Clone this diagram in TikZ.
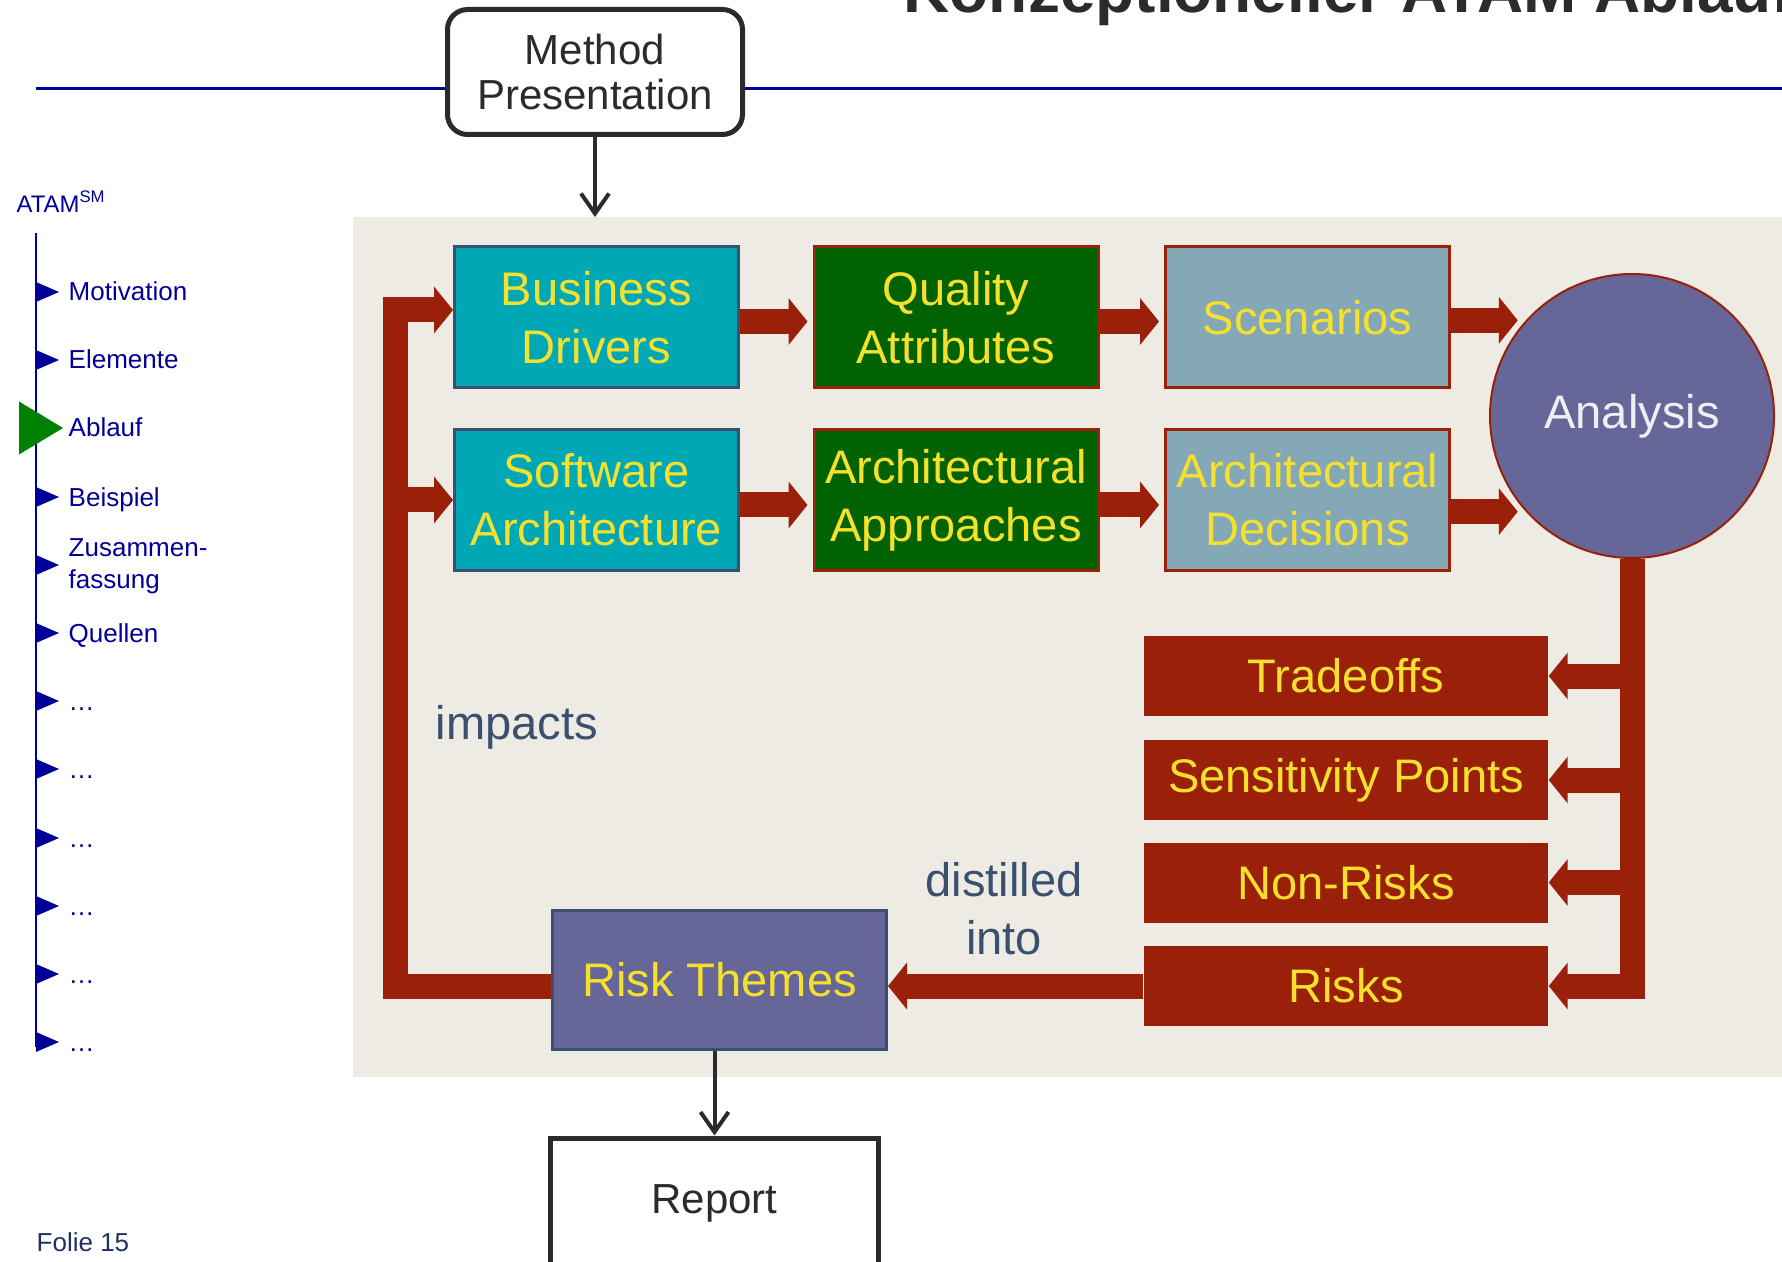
\documentclass[tikz,border=0pt]{standalone}
\usepackage{fontspec}
\setmainfont{Liberation Sans}
\usepackage{xcolor}
\usepackage{tikz}
\usetikzlibrary{arrows.meta}

\definecolor{navyblue}{RGB}{0,0,153}
\definecolor{riskred}{RGB}{154,32,10}
\definecolor{driverteal}{RGB}{0,168,182}
\definecolor{attrgreen}{RGB}{0,98,0}
\definecolor{scengray}{RGB}{133,168,183}
\definecolor{themeslate}{RGB}{102,102,153}
\definecolor{edgeslate}{RGB}{58,80,110}
\definecolor{textyellow}{RGB}{245,225,45}
\definecolor{panelbg}{RGB}{238,235,228}
\definecolor{inkgray}{RGB}{43,43,43}
\definecolor{markgreen}{RGB}{0,128,0}
\definecolor{folieblue}{RGB}{30,50,100}
\definecolor{paperwhite}{RGB}{238,238,245}

\newcommand{\boxfont}{\fontsize{13.4}{16.5}\selectfont}
\newcommand{\inkfont}{\fontsize{11.95}{12.8}\selectfont}
\newcommand{\navfont}{\fontsize{7.4}{9.1}\selectfont}
\newcommand{\titlefont}{\fontsize{18.2}{21}\selectfont\bfseries}

\tikzset{
  flowbox/.style={rectangle, minimum width=2.84cm, minimum height=1.41cm, line width=0.03cm, text=textyellow, align=center, font=\boxfont, inner sep=0.05cm},
  outbox/.style={rectangle, fill=riskred, minimum width=4.04cm, minimum height=0.80cm, text=textyellow, font=\boxfont},
  inkbox/.style={rectangle, draw=inkgray, fill=white, line width=0.05cm, text=inkgray, align=center, font=\inkfont},
  redflow/.style={draw=riskred, line width=0.25cm, -{Triangle[width=0.46cm,length=0.19cm]}},
  inkarrow/.style={draw=inkgray, line width=0.04cm, -{Straight Barb[width=0.28cm,length=0.2cm]}},
  navitem/.style={anchor=base west, inner sep=0pt, text=navyblue, font=\navfont},
  flowlabel/.style={text=edgeslate, font=\boxfont, align=center},
}

\begin{document}
\begin{tikzpicture}

\useasboundingbox (0,0) rectangle (17.82,12.61);

%% background
\fill[panelbg] (3.53,1.84) rectangle (17.82,10.44);

%% heading
\node[anchor=base west, inner sep=0pt, text=inkgray, font=\titlefont] (title) at (9.03,12.48) {Konzeptioneller ATAM Ablauf};
\draw[navyblue, line width=0.03cm] (0.36,11.72) -- (17.82,11.72);

%% side bar
\node[anchor=base west, inner sep=0pt, text=navyblue, font=\fontsize{6.8}{8}\selectfont] (atam) at (0.16,10.48) {ATAM\textsuperscript{SM}};
\draw[navyblue, line width=0.025cm] (0.36,10.28) -- (0.36,2.14);

\fill[navyblue] (0.36,9.79) -- (0.59,9.69) -- (0.36,9.59) -- cycle;
\fill[navyblue] (0.36,9.11) -- (0.59,9.01) -- (0.36,8.91) -- cycle;
\fill[markgreen] (0.19,8.595) -- (0.63,8.33) -- (0.19,8.065) -- cycle;
\fill[navyblue] (0.36,7.74) -- (0.59,7.64) -- (0.36,7.54) -- cycle;
\fill[navyblue] (0.36,7.06) -- (0.59,6.96) -- (0.36,6.86) -- cycle;
\fill[navyblue] (0.36,6.38) -- (0.59,6.28) -- (0.36,6.18) -- cycle;
\fill[navyblue] (0.36,5.70) -- (0.59,5.60) -- (0.36,5.50) -- cycle;
\fill[navyblue] (0.36,5.02) -- (0.59,4.92) -- (0.36,4.82) -- cycle;
\fill[navyblue] (0.36,4.33) -- (0.59,4.23) -- (0.36,4.13) -- cycle;
\fill[navyblue] (0.36,3.65) -- (0.59,3.55) -- (0.36,3.45) -- cycle;
\fill[navyblue] (0.36,2.97) -- (0.59,2.87) -- (0.36,2.77) -- cycle;
\fill[navyblue] (0.36,2.29) -- (0.59,2.19) -- (0.36,2.09) -- cycle;

\node[navitem] (n1) at (0.68,9.60) {Motivation};
\node[navitem] (n2) at (0.68,8.92) {Elemente};
\node[navitem] (n3) at (0.68,8.24) {Ablauf};
\node[navitem] (n4) at (0.68,7.55) {Beispiel};
\node[navitem, anchor=west, align=left] (n5) at (0.68,6.95) {Zusammen-\\fassung};
\node[navitem] (n6) at (0.68,6.19) {Quellen};
\node[navitem] (n7) at (0.68,5.51) {…};
\node[navitem] (n8) at (0.68,4.83) {…};
\node[navitem] (n9) at (0.68,4.14) {…};
\node[navitem] (n10) at (0.68,3.46) {…};
\node[navitem] (n11) at (0.68,2.78) {…};
\node[navitem] (n12) at (0.68,2.10) {…};

\node[anchor=base west, inner sep=0pt, text=folieblue, font=\navfont] (folie) at (0.36,0.10) {Folie 15};

% nodes

\node[inkbox, rounded corners=0.2cm, minimum width=2.95cm, minimum height=1.25cm] (mp) at (5.95,11.89) {Method\\Presentation};
\coordinate (mpin) at (5.95,10.44);

\node[flowbox, fill=driverteal, draw=edgeslate] (bd) at (5.965,9.435) {Business\\Drivers};
\node[flowbox, fill=driverteal, draw=edgeslate] (sa) at (5.965,7.61) {Software\\Architecture};
\node[flowbox, fill=attrgreen, draw=riskred] (qa) at (9.56,9.435) {Quality\\Attributes};
\node[flowbox, fill=attrgreen, draw=riskred] (aa) at (9.56,7.61) {Architectural\\Approaches};
\node[flowbox, fill=scengray, draw=riskred] (sc) at (13.075,9.435) {Scenarios};
\node[flowbox, fill=scengray, draw=riskred] (ad) at (13.075,7.61) {Architectural\\Decisions};

\node[circle, minimum size=2.84cm, inner sep=0pt, fill=themeslate, draw=riskred, line width=0.02cm, text=paperwhite, font=\boxfont] (an) at (16.32,8.45) {\raisebox{-0.05cm}{Analysis}};

\node[outbox] (to) at (13.46,5.85) {Tradeoffs};
\node[outbox] (sp) at (13.46,4.81) {Sensitivity Points};
\node[outbox] (nr) at (13.46,3.785) {Non-Risks};
\node[outbox] (ri) at (13.46,2.75) {Risks};

\node[flowbox, minimum width=3.34cm, minimum height=1.39cm, fill=themeslate, draw=edgeslate] (rt) at (7.195,2.81) {Risk Themes};

\node[inkbox, minimum width=3.28cm, minimum height=1.30cm] (report) at (7.145,0.58) {Report};

\node[flowlabel] (impacts) at (5.17,5.34) {impacts};
\node[flowlabel] (distilled) at (10.04,3.525) {distilled\\into};

\coordinate (fbtop) at (3.95,9.51);

%% arrows

\draw[redflow, shorten >=0.05cm] ([yshift=-0.04cm]bd.east) -- ([yshift=-0.04cm]qa.west);
\draw[redflow, shorten >=0.05cm] ([yshift=-0.04cm]qa.east) -- ([yshift=-0.04cm]sc.west);
\draw[redflow, shorten >=0.05cm] ([yshift=-0.05cm]sa.east) -- ([yshift=-0.05cm]aa.west);
\draw[redflow, shorten >=0.05cm] ([yshift=-0.05cm]aa.east) -- ([yshift=-0.05cm]ad.west);

\draw[redflow, shorten >=0.08cm] (sc.east |- an.138) -- (an.138);
\draw[redflow, shorten >=0.08cm] (ad.east |- an.222) -- (an.222);

\draw[redflow] (an.south) |- (ri.east);
\draw[redflow] (an.south |- to.east) -- (to.east);
\draw[redflow] (an.south |- sp.east) -- (sp.east);
\draw[redflow] (an.south |- nr.east) -- (nr.east);

\draw[redflow] (ri.west) -- (ri.west -| rt.east);

%% impacts loop
\draw[redflow] (rt.west |- ri.west) -| (fbtop) -- (fbtop -| bd.west);
\draw[redflow] (fbtop |- sa.west) -- (sa.west);

%% in and out
\draw[inkarrow] (mp) -- (mpin);
\draw[inkarrow] (rt.south -| report.north) -- (report.north);

\end{tikzpicture}
\end{document}
